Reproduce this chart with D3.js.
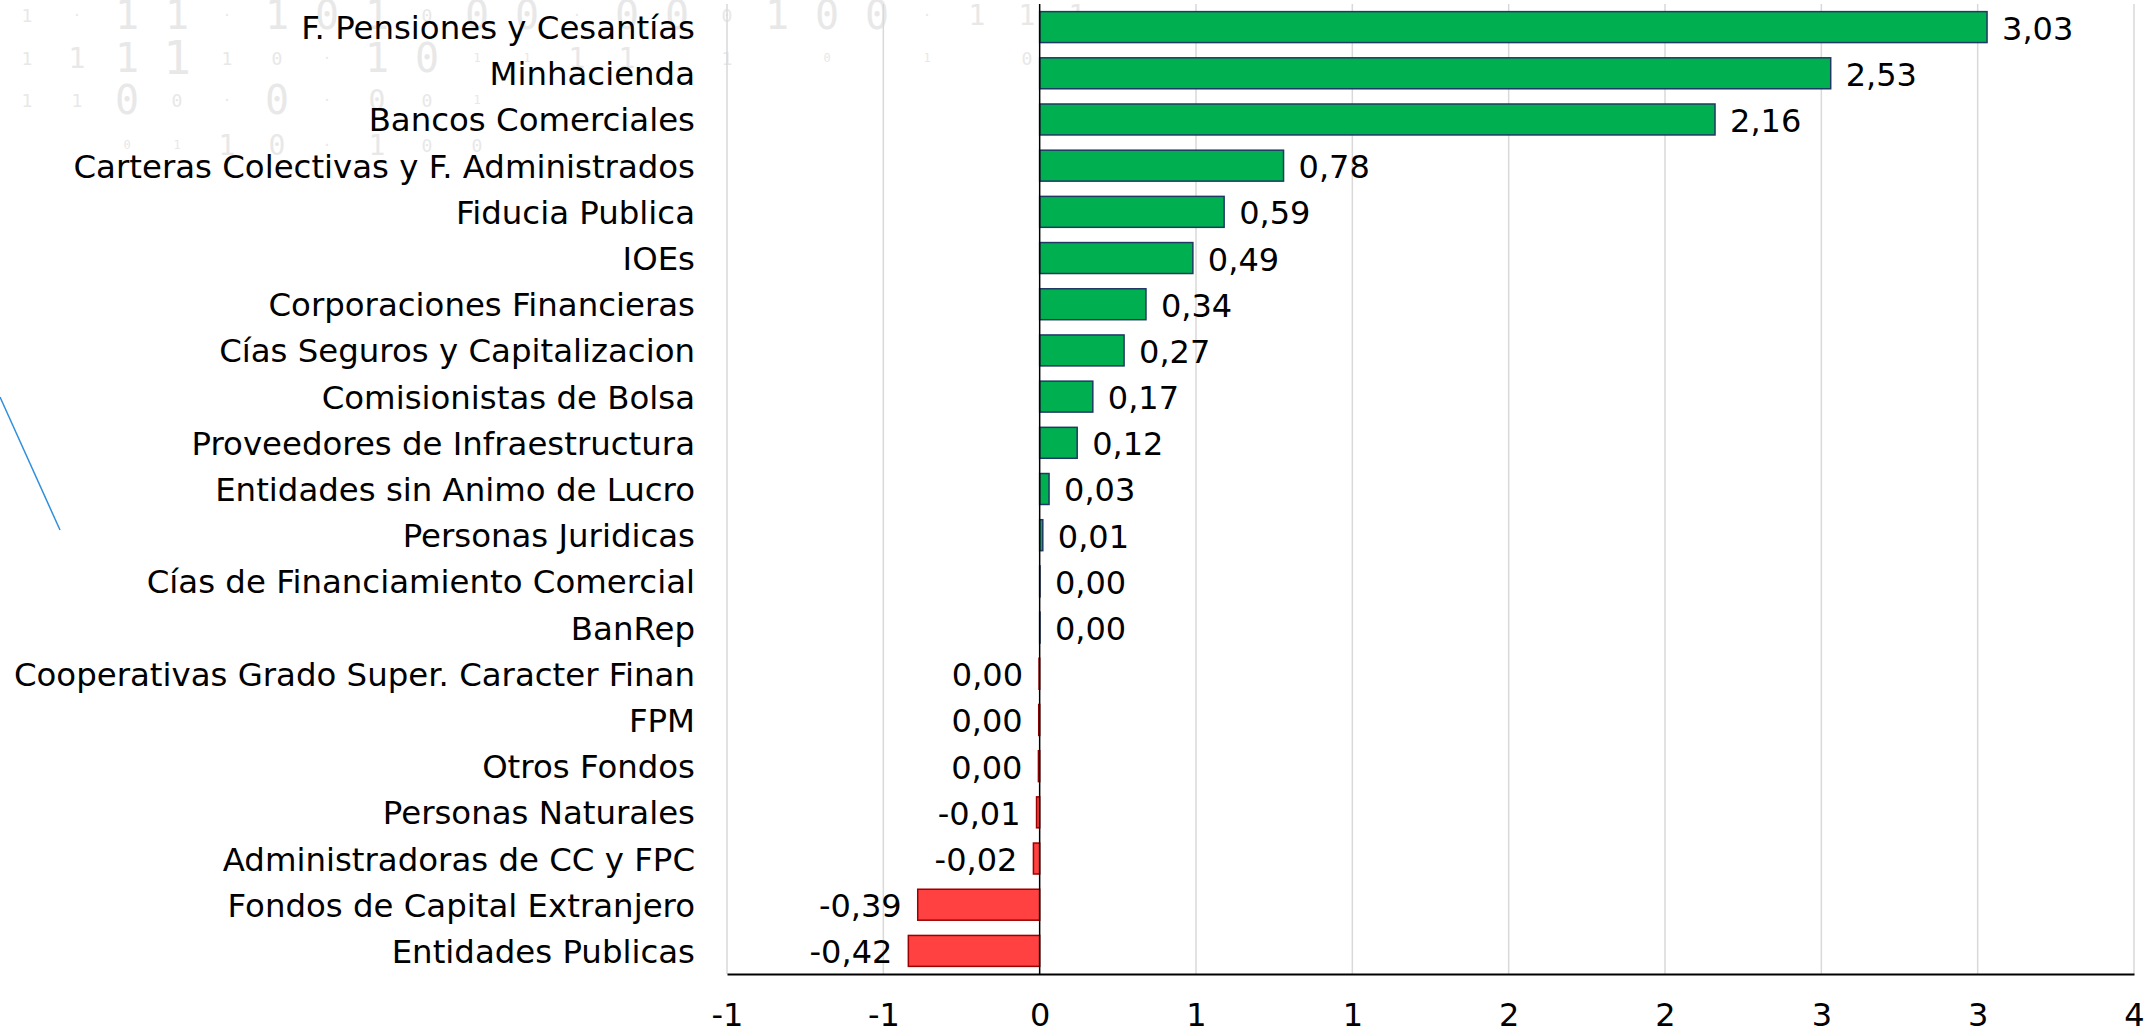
<!DOCTYPE html>
<html>
<head>
<meta charset="utf-8">
<script src="https://cdn.jsdelivr.net/npm/d3@7"></script>
<style>
  html, body { margin: 0; padding: 0; background: #fff; }
  svg { display: block; }
  text { font-family: Verdana, "DejaVu Sans", sans-serif; }
</style>
</head>
<body>
<div id="chart"></div>
<script>
const categories = [
  "F. Pensiones y Cesantías",
  "Minhacienda",
  "Bancos Comerciales",
  "Carteras Colectivas y F. Administrados",
  "Fiducia Publica",
  "IOEs",
  "Corporaciones Financieras",
  "Cías Seguros y Capitalizacion",
  "Comisionistas de Bolsa",
  "Proveedores de Infraestructura",
  "Entidades sin Animo de Lucro",
  "Personas Juridicas",
  "Cías de Financiamiento Comercial",
  "BanRep",
  "Cooperativas Grado Super. Caracter Finan",
  "FPM",
  "Otros Fondos",
  "Personas Naturales",
  "Administradoras de CC y FPC",
  "Fondos de Capital Extranjero",
  "Entidades Publicas"
];
const values = [3.03, 2.53, 2.16, 0.78, 0.59, 0.49, 0.34, 0.27, 0.17, 0.12, 0.03, 0.01,
  0.001, 0.001, -0.002, -0.003, -0.004, -0.01, -0.02, -0.39, -0.42];

const tickValues = [-1, -0.5, 0, 0.5, 1, 1.5, 2, 2.5, 3, 3.5];
const tickLabels = ["-1", "-1", "0", "1", "1", "2", "2", "3", "3", "4"];

// faint binary pattern behind the top-left (char + size code per column, "" = empty)
const bgRow1 = ["1s", "·", "1L", "1L", "·", "1L", "0L", "1L", "0s", "0L", "0L", "·", "0L", "0L", "0s", "1L", "0L", "0L", "·", "1M", "1M", "1M"];
const bgRow2 = ["1s", "1M", "1L", "1X", "1s", "0s", "·", "1L", "0L", "1t", "1t", "1M", "1M", "", "1s", "", "0t", "", "1t", "", "0s"];
const bgRow3 = ["1s", "1s", "0L", "0s", "·", "0L", "·", "0M", "0s", "1t"];
const bgRow4 = ["", "", "0t", "1t", "1M", "0M", "·", "1M", "0s", "0s"];

const width = 2144, height = 1029;
const plot = { left: 727, right: 2134, top: 4, bottom: 974 };

const svg = d3.select("#chart").append("svg")
  .attr("width", width)
  .attr("height", height);

svg.append("rect").attr("width", width).attr("height", height).attr("fill", "#fff");

// background digits
const sizeOf = { X: 46, L: 40, M: 28, s: 18, t: 12 };
const bg = svg.append("g").attr("fill", "#e8e8e8");
[bgRow1, bgRow2, bgRow3, bgRow4].forEach((row, r) => {
  row.forEach((cell, i) => {
    if (!cell) return;
    const ch = cell[0];
    const s = ch === "·" ? 14 : sizeOf[cell[1]];
    bg.append("text")
      .attr("x", 27 + i * 50)
      .attr("y", [15, 58, 100, 145][r])
      .attr("text-anchor", "middle")
      .attr("dominant-baseline", "central")
      .style("font-family", "'DejaVu Sans Mono', monospace")
      .style("font-size", s + "px")
      .text(ch);
  });
});

// blue decorative stroke on the left
svg.append("line")
  .attr("x1", 0).attr("y1", 397)
  .attr("x2", 60).attr("y2", 530)
  .attr("stroke", "#2f8fdc")
  .attr("stroke-width", 1.5);

const x = d3.scaleLinear().domain([-1, 3.5]).range([plot.left, plot.right]);
const y = d3.scaleBand().domain(categories).range([plot.top, plot.bottom])
  .paddingInner(0.33).paddingOuter(0.165);

const fmtLocale = d3.formatLocale({ decimal: ",", thousands: ".", grouping: [3], currency: ["", ""], minus: "-" });
const fmt = fmtLocale.format(".2f");

// gridlines
svg.append("g")
  .selectAll("line")
  .data(tickValues.filter(d => d !== 0))
  .join("line")
  .attr("x1", d => x(d)).attr("x2", d => x(d))
  .attr("y1", plot.top).attr("y2", plot.bottom)
  .attr("stroke", "#d9d9d9")
  .attr("stroke-width", 1.5);

// bars
const data = categories.map((c, i) => ({ name: c, value: values[i] }));

svg.append("g")
  .selectAll("rect")
  .data(data)
  .join("rect")
  .attr("x", d => x(Math.min(0, d.value)))
  .attr("y", d => y(d.name))
  .attr("width", d => Math.abs(x(d.value) - x(0)))
  .attr("height", y.bandwidth())
  .attr("fill", d => d.value >= 0 ? "#00b050" : "#ff4141")
  .attr("stroke", d => d.value >= 0 ? "#1f3864" : "#9a0000")
  .attr("stroke-width", 1.5);

// zero line
svg.append("line")
  .attr("x1", x(0)).attr("x2", x(0))
  .attr("y1", plot.top).attr("y2", plot.bottom)
  .attr("stroke", "#000")
  .attr("stroke-width", 1.5);

// value labels
svg.append("g")
  .selectAll("text")
  .data(data)
  .join("text")
  .attr("x", d => d.value >= 0 ? x(d.value) + 15 : x(d.value) - 16)
  .attr("y", d => y(d.name) + y.bandwidth() / 2)
  .attr("dy", "0.39em")
  .attr("text-anchor", d => d.value >= 0 ? "start" : "end")
  .style("font-size", "32px")
  .attr("fill", "#000")
  .text(d => fmt(d.value));

// category labels
svg.append("g")
  .selectAll("text")
  .data(categories)
  .join("text")
  .attr("x", plot.left - 32)
  .attr("y", d => y(d) + y.bandwidth() / 2)
  .attr("dy", "0.37em")
  .attr("text-anchor", "end")
  .style("font-size", "32.4px")
  .attr("fill", "#000")
  .text(d => d);

// bottom axis
const xAxis = d3.axisBottom(x)
  .tickValues(tickValues)
  .tickFormat((d, i) => tickLabels[i])
  .tickSize(0)
  .tickPadding(29);

const gx = svg.append("g")
  .attr("transform", `translate(0,${plot.bottom})`)
  .call(xAxis);
gx.select(".domain").attr("stroke", "#000").attr("stroke-width", 2);
gx.selectAll(".tick text")
  .style("font-size", "32px")
  .style("font-family", "Verdana, 'DejaVu Sans', sans-serif")
  .attr("fill", "#000");
</script>
</body>
</html>
